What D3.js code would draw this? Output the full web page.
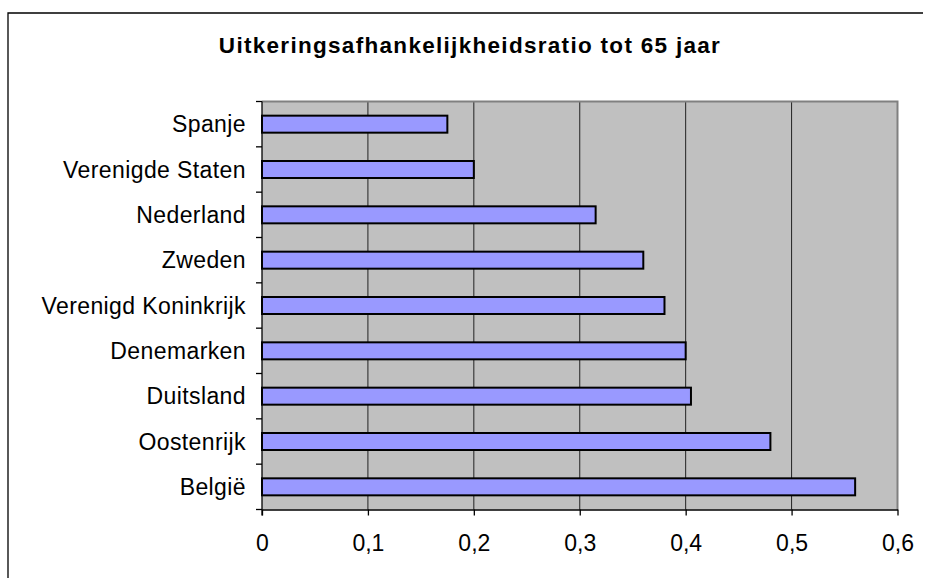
<!DOCTYPE html>
<html>
<head>
<meta charset="utf-8">
<script src="https://cdn.jsdelivr.net/npm/d3@7"></script>
<style>
  html, body { margin: 0; padding: 0; background: #ffffff; }
  svg { display: block; }
  text { font-family: "Liberation Sans", Arial, sans-serif; fill: #000; }
</style>
</head>
<body>
<svg id="chart" width="925" height="578"></svg>
<script>
// Uitkeringsafhankelijkheidsratio per land (tot 65 jaar)
const categories = ["Spanje", "Verenigde Staten", "Nederland", "Zweden", "Verenigd Koninkrijk",
                    "Denemarken", "Duitsland", "Oostenrijk", "België"];
const ratios = [0.175, 0.2, 0.315, 0.36, 0.38, 0.4, 0.405, 0.48, 0.56];
const xTickValues = [0, 0.1, 0.2, 0.3, 0.4, 0.5, 0.6];
const xTickLabels = ["0", "0,1", "0,2", "0,3", "0,4", "0,5", "0,6"];
const title = "Uitkeringsafhankelijkheidsratio tot 65 jaar";

const svg = d3.select("#chart");

const plot = { left: 262, right: 897.5, top: 101.5, bottom: 509.5 };

const x = d3.scaleLinear().domain([0, 0.6]).range([plot.left, plot.right]);
const y = d3.scaleBand()
  .domain(categories)
  .range([plot.top, plot.bottom])
  .paddingInner(0.625)
  .paddingOuter(0.3125);

// outer chart frame (left and top edges)
svg.append("path")
  .attr("d", `M8,578 V13 H923`)
  .attr("fill", "none")
  .attr("stroke", "#000")
  .attr("stroke-width", 1.3);

// title
svg.append("text")
  .attr("x", 470)
  .attr("y", 53)
  .attr("text-anchor", "middle")
  .attr("font-size", 22.5)
  .attr("font-weight", "bold")
  .attr("letter-spacing", 1.3)
  .text(title);

// plot background
svg.append("rect")
  .attr("x", plot.left)
  .attr("y", plot.top)
  .attr("width", plot.right - plot.left)
  .attr("height", plot.bottom - plot.top)
  .attr("fill", "#c0c0c0");

// vertical gridlines
svg.append("g")
  .selectAll("line")
  .data(xTickValues.filter(v => v > 0 && v < 0.6))
  .join("line")
  .attr("x1", d => x(d)).attr("x2", d => x(d))
  .attr("y1", plot.top).attr("y2", plot.bottom)
  .attr("stroke", "#222")
  .attr("stroke-width", 1);

// top and right border of plot area
svg.append("path")
  .attr("d", `M${plot.left},${plot.top} H${plot.right} V${plot.bottom}`)
  .attr("fill", "none")
  .attr("stroke", "#808080")
  .attr("stroke-width", 2);

// bars
svg.append("g")
  .selectAll("rect")
  .data(categories.map((c, i) => ({ c, v: ratios[i] })))
  .join("rect")
  .attr("x", x(0))
  .attr("y", d => y(d.c))
  .attr("width", d => x(d.v) - x(0))
  .attr("height", y.bandwidth())
  .attr("fill", "#9999ff")
  .attr("stroke", "#000")
  .attr("stroke-width", 2);

// x axis
const xAxis = d3.axisBottom(x)
  .tickValues(xTickValues)
  .tickFormat((d, i) => xTickLabels[i])
  .tickSizeInner(6)
  .tickSizeOuter(0)
  .tickPadding(19);
const gx = svg.append("g")
  .attr("transform", `translate(0,${plot.bottom})`)
  .call(xAxis);
gx.select(".domain").attr("stroke", "#000").attr("stroke-width", 1.3);
gx.selectAll(".tick line").attr("stroke", "#000").attr("stroke-width", 1.3);
gx.selectAll(".tick text")
  .attr("font-family", "Liberation Sans, Arial, sans-serif")
  .attr("font-size", 23)
  .attr("fill", "#000");

// y axis: line, category boundary ticks, labels
const step = y.step();
const boundaries = d3.range(categories.length + 1).map(i => plot.top + i * step);
svg.append("line")
  .attr("x1", plot.left).attr("x2", plot.left)
  .attr("y1", plot.top).attr("y2", plot.bottom + 6)
  .attr("stroke", "#000").attr("stroke-width", 1.3);
svg.append("g")
  .selectAll("line")
  .data(boundaries)
  .join("line")
  .attr("x1", plot.left - 6).attr("x2", plot.left)
  .attr("y1", d => d).attr("y2", d => d)
  .attr("stroke", "#000").attr("stroke-width", 1.3);
svg.append("g")
  .selectAll("text")
  .data(categories)
  .join("text")
  .attr("x", 246)
  .attr("y", d => y(d) + y.bandwidth() / 2)
  .attr("dy", "0.36em")
  .attr("text-anchor", "end")
  .attr("font-size", 23)
  .attr("letter-spacing", 0.4)
  .text(d => d);
</script>
</body>
</html>
